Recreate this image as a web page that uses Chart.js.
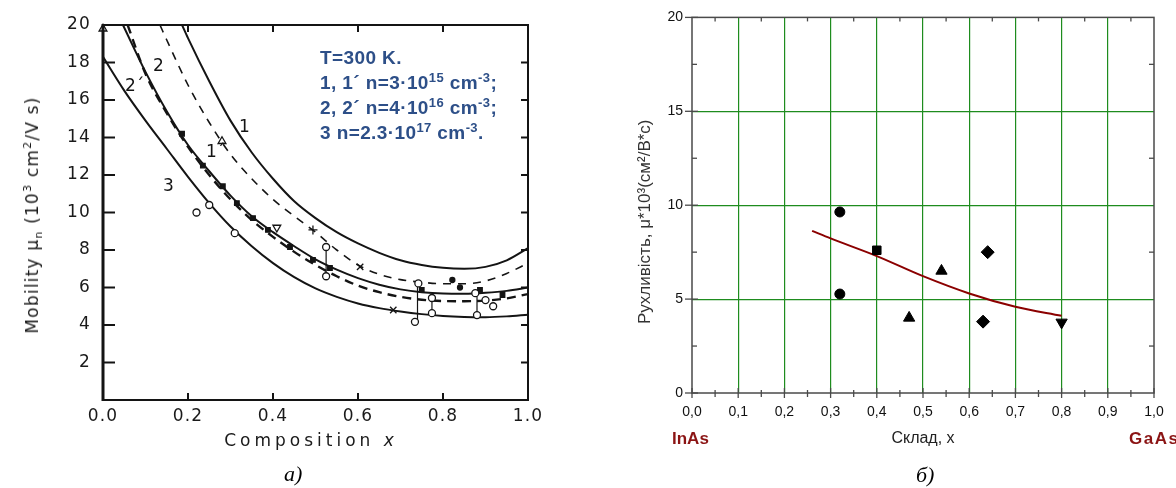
<!DOCTYPE html>
<html>
<head>
<meta charset="utf-8">
<script src="https://cdn.jsdelivr.net/npm/chart.js@4.4.0/dist/chart.umd.min.js"></script>
<style>
  body { margin: 0; background: #fff; }
  #wrap { position: relative; width: 1176px; height: 488px; overflow: hidden; background: #fff; }
  canvas { position: absolute; top: 0; }
  #chartA { left: 0; }
  #chartB { left: 590px; }
  .lbl { position: absolute; white-space: nowrap; line-height: 1; }
  .note { left: 320px; top: 45px; font: bold 19px "Liberation Sans", Arial, sans-serif; line-height: 25px; letter-spacing: 0.4px; color: #2d4f88; }
  .note sup { font-size: 13px; vertical-align: 7px; line-height: 0; }
  .curve { font: 17px "DejaVu Sans", sans-serif; color: #141414; }
  .ttl { font: 17px "DejaVu Sans", sans-serif; color: #1a1a1a; }
  .ttl sup, .ttl sub { font-size: 11px; line-height: 0; }
  .cap { font: italic 22px "Liberation Serif", serif; color: #000; }
  .mat { font: bold 17px "Liberation Sans", Arial, sans-serif; color: #8b1414; }
</style>
</head>
<body>
<div id="wrap">
  <canvas id="chartA" width="560" height="488"></canvas>
  <canvas id="chartB" width="586" height="488"></canvas>

  <div class="lbl ttl" style="left:32px; top:215px; transform: translate(-50%,-50%) rotate(-90deg); letter-spacing:1.2px;">Mobility μ<sub>n</sub> (10<sup>3</sup> cm<sup>2</sup>/V s)</div>
  <div class="lbl ttl" style="left:311px; top:440px; transform: translate(-50%,-50%); letter-spacing:4px;">Composition <i>x</i></div>

  <div class="lbl note">T=300 K.<br>1, 1´ n=3·10<sup>15</sup> cm<sup>-3</sup>;<br>2, 2´ n=4·10<sup>16</sup> cm<sup>-3</sup>;<br>3 n=2.3·10<sup>17</sup> cm<sup>-3</sup>.</div>

  <div class="lbl curve" style="left:239px; top:116px;">1</div>
  <div class="lbl curve" style="left:206px; top:141px;">1´</div>
  <div class="lbl curve" style="left:153px; top:55px;">2</div>
  <div class="lbl curve" style="left:125px; top:75px;">2´</div>
  <div class="lbl curve" style="left:163px; top:175px;">3</div>

  <div class="lbl cap" style="left:284px; top:461px;">a)</div>
  <div class="lbl cap" style="left:916px; top:462px;">б)</div>
  <div class="lbl mat" style="left:672px; top:429px;">InAs</div>
  <div class="lbl mat" style="left:1129px; top:429px; letter-spacing:1.5px;">GaAs</div>
</div>

<script>
// ---------- график а): подвижность электронов, T=300 K ----------
const x1 = [0.186, 0.2, 0.25, 0.3, 0.35, 0.4, 0.45, 0.5, 0.55, 0.6, 0.65, 0.7, 0.75, 0.8, 0.85, 0.9, 0.95, 1.0];
const mu1 = [20, 19.3, 17.0, 14.9, 13.2, 11.8, 10.6, 9.7, 8.95, 8.35, 7.85, 7.45, 7.2, 7.05, 7.0, 7.1, 7.45, 8.1];
const x1d = [0.134, 0.15, 0.2, 0.25, 0.3, 0.35, 0.4, 0.45, 0.5, 0.55, 0.6, 0.65, 0.7, 0.75, 0.8, 0.85, 0.9, 0.95, 1.0];
const mu1d = [20, 19.2, 16.8, 14.8, 13.1, 11.8, 10.7, 9.8, 8.95, 8.0, 7.2, 6.7, 6.42, 6.28, 6.2, 6.2, 6.35, 6.75, 7.3];
const x2 = [0.047, 0.1, 0.15, 0.2, 0.25, 0.3, 0.35, 0.4, 0.45, 0.5, 0.55, 0.6, 0.65, 0.7, 0.75, 0.8, 0.85, 0.9, 0.95, 1.0];
const mu2 = [20, 17.5, 15.4, 13.6, 12.2, 10.9, 9.8, 8.95, 8.2, 7.5, 6.95, 6.5, 6.15, 5.9, 5.75, 5.68, 5.67, 5.72, 5.82, 6.0];
const x2d = [0.058, 0.1, 0.15, 0.2, 0.25, 0.3, 0.35, 0.4, 0.45, 0.5, 0.55, 0.6, 0.65, 0.7, 0.75, 0.8, 0.85, 0.9, 0.95, 1.0];
const mu2d = [20, 17.4, 15.3, 13.5, 12.0, 10.7, 9.6, 8.7, 7.9, 7.2, 6.6, 6.1, 5.75, 5.5, 5.35, 5.28, 5.27, 5.3, 5.42, 5.65];
const x3 = [0, 0.05, 0.1, 0.15, 0.2, 0.25, 0.3, 0.35, 0.4, 0.45, 0.5, 0.55, 0.6, 0.65, 0.7, 0.75, 0.8, 0.85, 0.9, 0.95, 1.0];
const mu3 = [18.3, 16.5, 14.9, 13.4, 11.9, 10.5, 9.25, 8.2, 7.3, 6.55, 5.95, 5.5, 5.15, 4.9, 4.72, 4.58, 4.48, 4.43, 4.42, 4.46, 4.55];

// экспериментальные точки
const openX = [0.22, 0.25, 0.31, 0.525, 0.525, 0.742, 0.734, 0.774, 0.774, 0.88, 0.876, 0.9, 0.918];
const openY = [10.0, 10.4, 8.9, 8.16, 6.6, 6.22, 4.17, 5.44, 4.63, 4.53, 5.7, 5.33, 5.0];
const sqX = [0.186, 0.235, 0.282, 0.315, 0.353, 0.388, 0.44, 0.494, 0.534, 0.75, 0.887, 0.94];
const sqY = [14.2, 12.5, 11.4, 10.5, 9.7, 9.07, 8.16, 7.47, 7.04, 5.87, 5.87, 5.6];
const dotX = [0.822, 0.84];
const dotY = [6.4, 6.0];
const crossX = [0.605, 0.683];
const crossY = [7.1, 4.8];
const plusX = [0.494];
const plusY = [9.07];
const triX = [0.0, 0.28];
const triY = [19.8, 13.8];
const triDownX = [0.409];
const triDownY = [9.2];
// вертикальные отрезки разброса
const barX = [0.525, 0.74, 0.774, 0.88];
const barLo = [6.6, 4.17, 4.63, 4.53];
const barHi = [8.16, 6.22, 5.44, 5.7];

const leftXTicks = [0.2, 0.4, 0.6, 0.8];
const leftYTicks = [2, 4, 6, 8, 10, 12, 14, 16, 18];

// ---------- графік б): рухливість від складу ----------
const fitX = [0.26, 0.3, 0.4, 0.5, 0.6, 0.7, 0.8];
const fitMu = [8.63, 8.23, 7.29, 6.22, 5.30, 4.59, 4.11];
const expX = [0.32, 0.32, 0.40, 0.47, 0.54, 0.64, 0.63, 0.80];
const expMu = [9.64, 5.27, 7.6, 4.0, 6.5, 7.5, 3.8, 3.76];
const expShape = ['circle', 'circle', 'rect', 'triangle', 'triangle', 'rectRot', 'rectRot', 'triangle'];
const expTurn = [0, 0, 0, 0, 0, 0, 0, 180];

const rightXMajor = [0, 0.1, 0.2, 0.3, 0.4, 0.5, 0.6, 0.7, 0.8, 0.9, 1.0];
const rightXMinor = [0.05, 0.15, 0.25, 0.35, 0.45, 0.55, 0.65, 0.75, 0.85, 0.95];
const rightYMajor = [0, 5, 10, 15, 20];
const rightYMinor = [2.5, 7.5, 12.5, 17.5];

// рамка и штрихи делений
const frameTicks = {
  id: 'frameTicks',
  beforeDraw(chart, args, o) {
    if (o.spacing) chart.ctx.letterSpacing = o.spacing;
  },
  afterDraw(chart, args, o) {
    const { ctx, chartArea: a, scales } = chart;
    const seg = (x1, y1, x2, y2) => { ctx.beginPath(); ctx.moveTo(x1, y1); ctx.lineTo(x2, y2); ctx.stroke(); };
    ctx.save();
    ctx.strokeStyle = o.color;
    ctx.lineWidth = o.tickWidth;
    o.marks.forEach(m => {
      m.values.forEach(v => {
        if (m.axis === 'x') {
          const p = scales.x.getPixelForValue(v);
          if (m.bottom) seg(p, a.bottom - m.bottom[0], p, a.bottom + m.bottom[1]);
          if (m.top) seg(p, a.top + m.top[0], p, a.top - m.top[1]);
        } else {
          const p = scales.y.getPixelForValue(v);
          if (m.left) seg(a.left + m.left[0], p, a.left - m.left[1], p);
          if (m.right) seg(a.right - m.right[0], p, a.right + m.right[1], p);
        }
      });
    });
    ctx.lineWidth = o.width;
    ctx.strokeRect(a.left, a.top, a.right - a.left, a.bottom - a.top);
    if (o.leftWidth) {
      ctx.lineWidth = o.leftWidth;
      seg(a.left, a.top - 1, a.left, a.bottom + 1);
    }
    ctx.restore();
  }
};

const pts = (xs, ys) => xs.map((x, i) => ({ x: x, y: ys[i] }));

function curve(xs, ys, dash, w) {
  return {
    data: pts(xs, ys), showLine: true, borderColor: '#141414', borderWidth: w || 1.8,
    borderDash: dash || [], pointRadius: 0, cubicInterpolationMode: 'monotone'
  };
}

function marks(xs, ys, style, r, fill, rot) {
  return {
    data: pts(xs, ys), showLine: false, pointStyle: style, pointRadius: r,
    pointBackgroundColor: fill, pointBorderColor: '#141414', pointBorderWidth: 1.3,
    pointRotation: rot || 0, clip: false
  };
}

const bars = barX.map((x, i) => ({
  data: [{ x: x, y: barLo[i] }, { x: x, y: barHi[i] }],
  showLine: true, borderColor: '#141414', borderWidth: 1.2, pointRadius: 0
}));

const axisFontA = { family: 'DejaVu Sans', size: 17 };

new Chart(document.getElementById('chartA'), {
  type: 'scatter',
  data: {
    datasets: [
      marks(openX, openY, 'circle', 3.5, '#fff'),
      marks(sqX, sqY, 'rect', 3.2, '#141414'),
      marks(dotX, dotY, 'circle', 2.5, '#141414'),
      marks(crossX, crossY, 'crossRot', 4.5, '#fff'),
      marks(plusX, plusY, 'cross', 4.5, '#fff'),
      marks(triX, triY, 'triangle', 4.5, '#fff'),
      marks(triDownX, triDownY, 'triangle', 4.5, '#fff', 180),
      ...bars,
      curve(x1, mu1, null, 2),
      curve(x1d, mu1d, [8, 7], 1.6),
      curve(x2, mu2, null, 2),
      curve(x2d, mu2d, [9, 6], 2.4),
      curve(x3, mu3, null, 2)
    ]
  },
  options: {
    responsive: false,
    animation: false,
    events: [],
    layout: { padding: { left: 0, top: 25, right: 32, bottom: 0 } },
    plugins: {
      legend: { display: false },
      tooltip: { enabled: false },
      frameTicks: {
        color: '#141414', width: 2, leftWidth: 3, tickWidth: 2, spacing: '1.2px',
        marks: [
          { axis: 'x', values: leftXTicks, bottom: [7, 0], top: [7, 0] },
          { axis: 'y', values: leftYTicks, left: [12, 0], right: [7, 0] }
        ]
      }
    },
    scales: {
      x: {
        type: 'linear', min: 0, max: 1,
        afterFit: s => { s.height = 88; },
        ticks: { stepSize: 0.2, padding: 6, color: '#1a1a1a', font: axisFontA, maxRotation: 0,
                 callback: v => Number(v).toFixed(1) },
        grid: { display: false, drawTicks: false },
        border: { display: false }
      },
      y: {
        min: 0, max: 20,
        afterFit: s => { s.width = 103; },
        ticks: { stepSize: 2, padding: 12, color: '#1a1a1a', font: axisFontA,
                 callback: v => v === 0 ? '' : v },
        grid: { display: false, drawTicks: false },
        border: { display: false }
      }
    }
  },
  plugins: [frameTicks]
});

const gridGreen = 'rgb(30,140,30)';
const axisFontB = { family: 'Liberation Sans', size: 14 };

new Chart(document.getElementById('chartB'), {
  type: 'scatter',
  data: {
    datasets: [
      {
        data: pts(expX, expMu), showLine: false,
        pointStyle: expShape, pointRotation: expTurn,
        pointRadius: [5, 5, 6, 6.5, 6.5, 6.5, 6.5, 6.5],
        pointBackgroundColor: '#000', pointBorderColor: '#000', pointBorderWidth: 1
      },
      {
        data: pts(fitX, fitMu), showLine: true, borderColor: '#8b0000', borderWidth: 2,
        pointRadius: 0, cubicInterpolationMode: 'monotone'
      }
    ]
  },
  options: {
    responsive: false,
    animation: false,
    events: [],
    layout: { padding: { left: 0, top: 16, right: 22, bottom: 0 } },
    plugins: {
      legend: { display: false },
      tooltip: { enabled: false },
      frameTicks: {
        color: '#4a4a4a', width: 1.5, tickWidth: 1.3,
        marks: [
          { axis: 'x', values: rightXMajor, bottom: [5, 5] },
          { axis: 'x', values: rightXMinor, bottom: [3, 4], top: [4, 0] },
          { axis: 'y', values: rightYMajor, left: [6, 7] },
          { axis: 'y', values: rightYMinor, left: [5, 0], right: [5, 0] }
        ]
      }
    },
    scales: {
      x: {
        type: 'linear', min: 0, max: 1,
        afterFit: s => { s.height = 95; },
        ticks: { stepSize: 0.1, padding: 11, color: '#111', font: axisFontB, maxRotation: 0,
                 callback: v => Number(v).toFixed(1).replace('.', ',') },
        grid: { drawTicks: false, lineWidth: 1.2,
                color: c => (c.tick.value <= 0.001 || c.tick.value >= 0.999) ? 'transparent' : gridGreen },
        border: { display: false },
        title: { display: true, text: 'Склад, x', color: '#222',
                 font: { family: 'Liberation Sans', size: 16 }, padding: { top: 0, bottom: 40 } }
      },
      y: {
        min: 0, max: 20,
        afterFit: s => { s.width = 102; },
        ticks: { stepSize: 5, padding: 9, color: '#111', font: axisFontB },
        grid: { drawTicks: false, lineWidth: 1.2,
                color: c => (c.tick.value === 0 || c.tick.value === 20) ? 'transparent' : gridGreen },
        border: { display: false },
        title: { display: true, text: 'Рухливість, μ*10³(см²/В*с)' + '\u00a0'.repeat(7), color: '#333',
                 font: { family: 'Liberation Sans', size: 17 }, padding: { top: 45, bottom: 0 } }
      }
    }
  },
  plugins: [frameTicks]
});
</script>
</body>
</html>
